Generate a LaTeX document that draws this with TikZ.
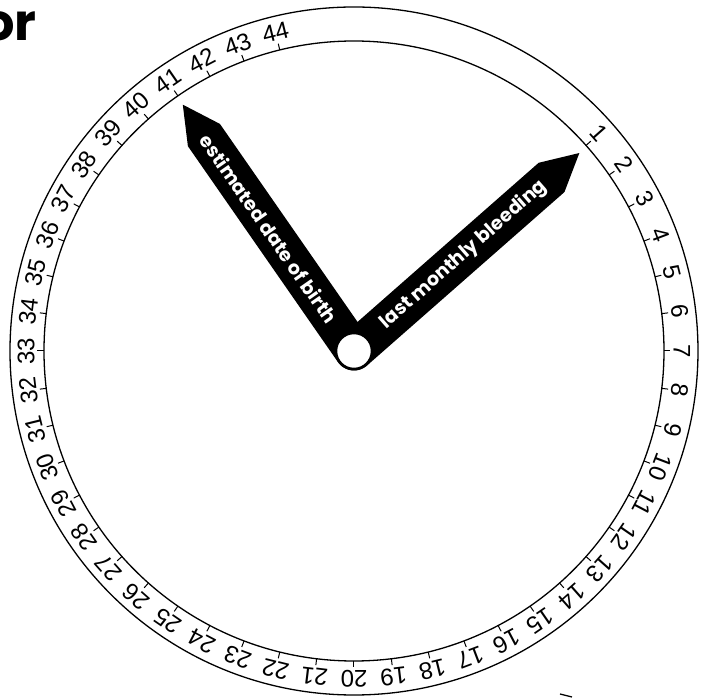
\documentclass[tikz,border=0pt]{standalone}
\usepackage{fontspec}
\newfontfamily\numfont{Liberation Sans}
\newfontfamily\handfont{Poppins}
\begin{document}
\begin{tikzpicture}[x=1pt,y=1pt,
  ring/.style={line width=1.3pt},
  scaletick/.style={line width=1pt},
  numlabel/.style={font=\numfont\fontsize{24}{24}\selectfont, inner sep=0pt},
  handshape/.style={fill=black},
  handtext/.style={font=\handfont\bfseries\fontsize{19}{19}\selectfont, text=white, inner sep=0pt},
  pivotstyle/.style={circle, draw=black, fill=white, line width=1.5pt, minimum size=35pt, inner sep=0pt}]
\useasboundingbox (-354,-347) rectangle (351,351);
\fill[white] (-354,-347) rectangle (351,351);
% title fragment
\node[anchor=base east, font=\handfont\bfseries\fontsize{51}{51}\selectfont, inner sep=0pt] (title) at (-317,310) {or};
% dial
\draw[ring] (0,0) circle[radius=344];
\draw[ring] (0,0) circle[radius=310];
\foreach \k in {1,...,44} {
  \pgfmathsetmacro\ang{90+(46-\k)*360/52}
  \draw[scaletick] (\ang:310) -- (\ang:316.5);
  \node[numlabel, rotate=\ang-90] (n\k) at (\ang:328) {\k};
}
% hands
\fill[handshape, rotate=41.3] (0,-19.5) -- (263,-19.5) -- (300,0) -- (263,19.5) -- (0,19.5) arc[start angle=90,end angle=270,radius=19.5] -- cycle;
\fill[handshape, rotate=124.8] (0,-19.5) -- (263,-19.5) -- (300,0) -- (263,19.5) -- (0,19.5) arc[start angle=90,end angle=270,radius=19.5] -- cycle;
\node[handtext, rotate=41.3] (lmb) at (41.3:146) {last monthly bleeding};
\node[handtext, rotate=-55.2] (edb) at (124.8:149) {estimated date of birth};
\node[pivotstyle] (pivot) at (0,0) {};
% fragment of a neighbouring shape
\draw[ring] (206,-343) -- (218,-346);
\end{tikzpicture}
\end{document}
